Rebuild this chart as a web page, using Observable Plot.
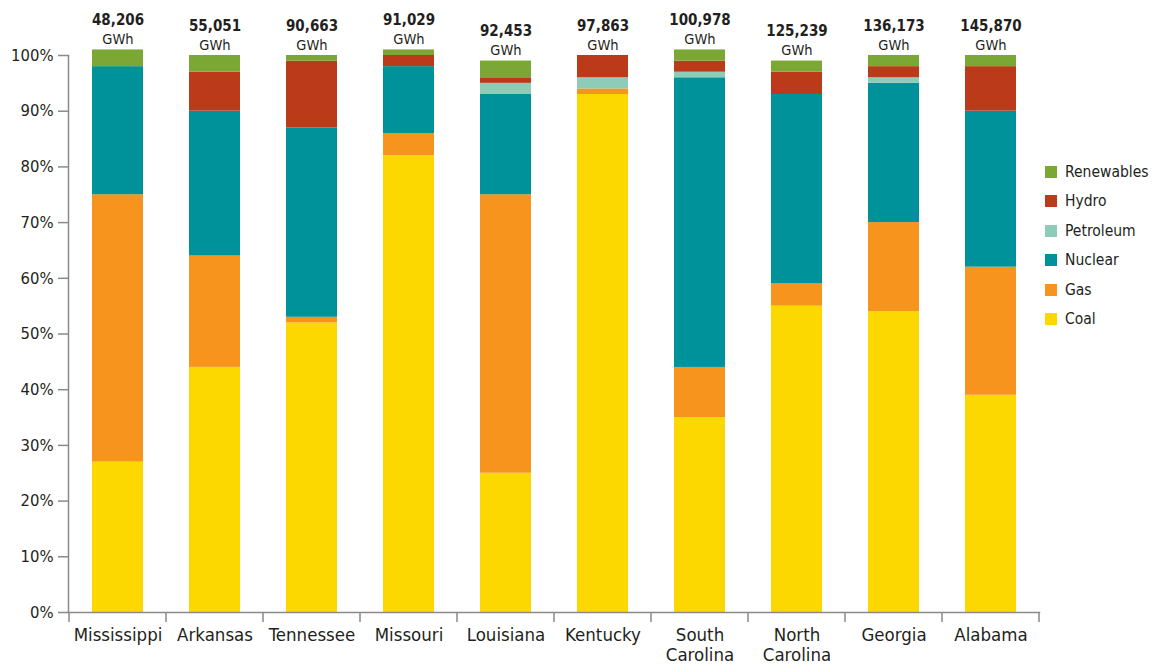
<!DOCTYPE html>
<html><head><meta charset="utf-8">
<script src="https://cdn.jsdelivr.net/npm/d3@7"></script>
<script src="https://cdn.jsdelivr.net/npm/@observablehq/plot@0.6"></script>
<style>
body{margin:0;background:#fff;font-family:"DejaVu Sans Condensed","Liberation Sans Narrow",sans-serif;color:#231f20;}
#wrap{position:relative;width:1156px;height:668px;}
#legend{position:absolute;left:1045px;top:157px;}
.row{display:flex;align-items:center;height:29.5px;font-size:15.5px;color:#231f20;}
.sw{width:12px;height:12px;margin-right:8px;}
</style></head><body><div id="wrap"><div id="chart"></div><div id="legend"></div></div>
<script>
const states = ["Mississippi","Arkansas","Tennessee","Missouri","Louisiana","Kentucky","South Carolina","North Carolina","Georgia","Alabama"];
const totals = [48206,55051,90663,91029,92453,97863,100978,125239,136173,145870];
const sources = ["Coal","Gas","Nuclear","Petroleum","Hydro","Renewables"];
const colors = ["#FDD800","#F7941E","#00929A","#8DCDB8","#BB3A1A","#7BA834"];
const coal       = [27,44,52,82,25,93,35,55,54,39];
const gas        = [48,20, 1, 4,50, 1, 9, 4,16,23];
const nuclear    = [23,26,34,12,18, 0,52,34,25,28];
const petroleum  = [ 0, 0, 0, 0, 2, 2, 1, 0, 1, 0];
const hydro      = [ 0, 7,12, 2, 1, 4, 2, 4, 2, 8];
const renewables = [ 3, 3, 1, 1, 3, 0, 2, 2, 2, 2];
const yTicks = [0,10,20,30,40,50,60,70,80,90,100];

const series = [coal, gas, nuclear, petroleum, hydro, renewables];
const rows = [];
states.forEach((s, i) => sources.forEach((src, j) => rows.push({state: s, source: src, value: series[j][i]})));
const tops = states.map((s, i) => ({state: s, top: d3.sum(series, a => a[i]), total: totals[i]}));

const plot = Plot.plot({
  width: 1156, height: 668,
  marginLeft: 68, marginRight: 117, marginTop: 55, marginBottom: 56,
  style: {fontFamily: '"DejaVu Sans Condensed","Liberation Sans Narrow",sans-serif', color: "#231f20", background: "#fff"},
  x: {domain: states, paddingInner: 0.475, paddingOuter: 0.2375, axis: null},
  y: {domain: [0, 100], axis: null},
  color: {domain: sources, range: colors},
  marks: [
    Plot.barY(rows, {x: "state", y: "value", fill: "source"}),
    Plot.frame({anchor: "left", stroke: "#8a8a8a", strokeWidth: 1.5}),
    Plot.frame({anchor: "bottom", stroke: "#8a8a8a", strokeWidth: 1.5}),
    Plot.axisY({ticks: yTicks, tickFormat: d => d + "%", tickSize: 10, tickPadding: 5, fontSize: 16.5, stroke: "#8a8a8a", strokeWidth: 1.5}),
    Plot.text(states, {x: d => d, text: d => d.replace(" ", "\n"), frameAnchor: "bottom", lineAnchor: "top", dy: 14, fontSize: 18.5, lineHeight: 1.08, fill: "#231f20"}),
    Plot.text(tops, {x: "state", y: "top", text: d => d3.format(",")(d.total), dy: -25, lineAnchor: "bottom", fontWeight: "bold", fontSize: 15, fill: "#231f20"}),
    Plot.text(tops, {x: "state", y: "top", text: () => "GWh", dy: -6, lineAnchor: "bottom", fontSize: 14.5, fill: "#231f20"})
  ]
});
document.getElementById("chart").appendChild(plot);

// boundary ticks on the x axis, positioned from Plot's band scale
const xs = plot.scale("x"), ys = plot.scale("y");
const gap = (xs.step - xs.bandwidth) / 2;
const bounds = states.map(s => xs.apply(s) - gap).concat([xs.apply(states[states.length - 1]) + xs.bandwidth + gap]);
const y0 = ys.apply(0);
d3.select(plot).append("g").attr("stroke", "#8a8a8a").attr("stroke-width", 1.5)
  .selectAll("line").data(bounds).join("line")
  .attr("x1", d => d).attr("x2", d => d).attr("y1", y0).attr("y2", y0 + 10);

// legend (top to bottom: Renewables ... Coal)
const legend = d3.select("#legend");
sources.map((s, i) => ({s, c: colors[i]})).reverse().forEach(d => {
  const r = legend.append("div").attr("class", "row");
  r.append("div").attr("class", "sw").style("background", d.c);
  r.append("span").text(d.s);
});
</script>
</body></html>
